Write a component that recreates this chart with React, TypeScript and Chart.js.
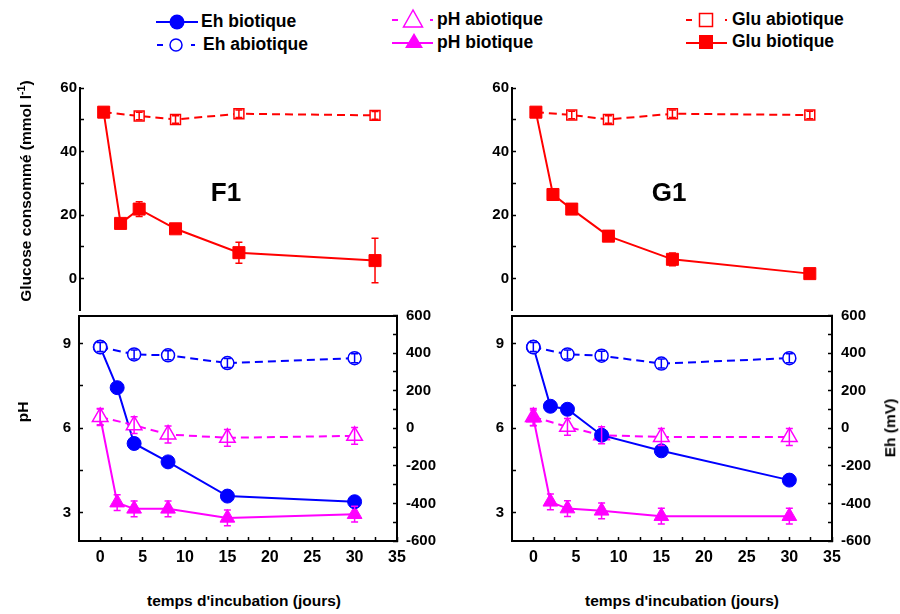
import React, { useEffect, useRef } from "react";
import { Chart, registerables } from "chart.js";

Chart.register(...registerables);

const FONT = 'Arial, "Liberation Sans", Helvetica, sans-serif';
const BLUE = "#0000ff";
const MAGENTA = "#ff00ff";
const RED = "#ff0000";

// ---------------- data ----------------
const daysBiotic = [0, 2, 4, 8, 15, 30];
const daysAbiotic = [0, 4, 8, 15, 30];
const daysGluBiotic = [0.3, 2.3, 4.5, 8.8, 16.3, 32.4];
const daysGluAbiotic = [0.3, 4.5, 8.8, 16.3, 32.4];

// F1
const f1GluBiotic = [52.4, 17.4, 21.9, 15.7, 8.2, 5.7];
const f1GluBioticErr = [0.5, 0.8, 2.3, 0.8, 3.3, 7];
const f1GluAbiotic = [52.4, 51.2, 50.1, 51.9, 51.4];
const f1GluAbioticErr = [0.6, 1.2, 1.2, 1.2, 1.2];
const f1EhBiotic = [432, 216, -81, -179, -361, -391];
const f1EhAbiotic = [432, 393, 388, 347, 373];
const f1EhAbioticErr = [24, 24, 24, 24, 24];
const f1PhBiotic = [6.4, 3.36, 3.14, 3.14, 2.82, 2.95];
const f1PhBioticErr = [0.28, 0.28, 0.28, 0.28, 0.28, 0.28];
const f1PhAbiotic = [6.4, 6.11, 5.78, 5.66, 5.73];
const f1PhAbioticErr = [0.3, 0.3, 0.3, 0.3, 0.3];

// G1
const g1GluBiotic = [52.4, 26.5, 21.9, 13.4, 6.1, 1.6];
const g1GluBioticErr = [0.5, 0.8, 0.8, 0.8, 2, 0.8];
const g1GluAbiotic = [52.4, 51.5, 50.1, 51.9, 51.5];
const g1GluAbioticErr = [0.6, 1.2, 1.2, 1.2, 1.2];
const g1EhBiotic = [432, 117, 101, -37, -120, -276];
const g1EhAbiotic = [432, 393, 386, 344, 373];
const g1EhAbioticErr = [24, 24, 24, 24, 24];
const g1PhBiotic = [6.37, 3.39, 3.15, 3.07, 2.88, 2.88];
const g1PhBioticErr = [0.28, 0.28, 0.28, 0.28, 0.28, 0.28];
const g1PhAbiotic = [6.4, 6.05, 5.75, 5.69, 5.69];
const g1PhAbioticErr = [0.3, 0.3, 0.3, 0.3, 0.3];

// ticks
const xTickValues = [0, 2.5, 5, 7.5, 10, 12.5, 15, 17.5, 20, 22.5, 25, 27.5, 30, 32.5, 35];
const xTickLabels = [0, 5, 10, 15, 20, 25, 30, 35];
const phTickValues = [3, 4.5, 6, 7.5, 9];
const phTickLabels = [3, 6, 9];
const ehTickValues = [-600, -500, -400, -300, -200, -100, 0, 100, 200, 300, 400, 500, 600];
const ehTickLabels = [-600, -400, -200, 0, 200, 400, 600];
const gluTickValues = [0, 10, 20, 30, 40, 50, 60];
const gluTickLabels = [0, 20, 40, 60];

const seriesLabels = {
  ehBio: "Eh biotique",
  ehAbio: "Eh abiotique",
  phAbio: "pH abiotique",
  phBio: "pH biotique",
  gluAbio: "Glu abiotique",
  gluBio: "Glu biotique",
};

// ---------------- helpers ----------------
const pts = (xs: number[], ys: number[]) => xs.map((x, i) => ({ x, y: ys[i] }));

const errorBarPlugin = {
  id: "errbars",
  afterDatasetsDraw(chart: any) {
    const ctx = chart.ctx;
    chart.data.datasets.forEach((ds: any, i: number) => {
      const err = ds.errors;
      if (!err) return;
      const meta = chart.getDatasetMeta(i);
      const ys = chart.scales[ds.yAxisID];
      ctx.save();
      ctx.strokeStyle = ds.borderColor;
      ctx.lineWidth = 1.5;
      meta.data.forEach((pt: any, j: number) => {
        const e = err[j];
        if (!e) return;
        const v = ds.data[j].y;
        const y1 = ys.getPixelForValue(v + e);
        const y2 = ys.getPixelForValue(v - e);
        const x = pt.x;
        ctx.beginPath();
        ctx.moveTo(x, y1);
        ctx.lineTo(x, y2);
        ctx.moveTo(x - 3.5, y1);
        ctx.lineTo(x + 3.5, y1);
        ctx.moveTo(x - 3.5, y2);
        ctx.lineTo(x + 3.5, y2);
        ctx.stroke();
      });
      ctx.restore();
    });
  },
};

const topBorderPlugin = {
  id: "topborder",
  afterDraw(chart: any, _a: any, opts: any) {
    if (!opts || !opts.enabled) return;
    const { left, right, top } = chart.chartArea;
    const ctx = chart.ctx;
    ctx.save();
    ctx.strokeStyle = "#000";
    ctx.lineWidth = 2;
    ctx.beginPath();
    ctx.moveTo(left - 1, Math.round(top));
    ctx.lineTo(right + 1, Math.round(top));
    ctx.stroke();
    ctx.restore();
  },
};

function axisStyle(
  tickValues: number[],
  tickLabels: number[],
  size: number,
  padding: number,
  horizontal: boolean,
  fontSize: number
) {
  return {
    border: { display: true, color: "#000", width: 2 },
    grid: {
      drawOnChartArea: false,
      drawTicks: true,
      tickLength: -4,
      tickColor: "#000",
      tickWidth: 1.5,
    },
    ticks: {
      autoSkip: false,
      color: "#000",
      padding,
      maxRotation: 0,
      minRotation: 0,
      font: { family: FONT, size: fontSize, weight: "bold" },
      callback: (v: any) =>
        tickLabels.some((l) => Math.abs(l - Number(v)) < 1e-9) ? String(v) : "",
    },
    afterBuildTicks: (s: any) => {
      s.ticks = tickValues.map((v) => ({ value: v }));
    },
    afterFit: (s: any) => {
      if (horizontal) s.height = size;
      else s.width = size;
      s.paddingTop = 0;
      s.paddingBottom = 0;
      s.paddingLeft = 0;
      s.paddingRight = 0;
    },
  };
}

const hiddenFit = (s: any) => {
  s.height = 0;
  s.paddingTop = 0;
  s.paddingBottom = 0;
  s.paddingLeft = 0;
  s.paddingRight = 0;
};

function baseOptions(layoutPadding: any, scales: any, topBorder: boolean) {
  return {
    responsive: false,
    maintainAspectRatio: false,
    animation: false,
    events: [],
    layout: { padding: layoutPadding },
    plugins: {
      legend: { display: false },
      tooltip: { enabled: false },
      topborder: { enabled: topBorder },
    },
    scales,
  };
}

function glucoseConfig(
  bio: number[],
  bioErr: number[],
  abio: number[],
  abioErr: number[],
  leftWidth: number,
  rightPad: number
) {
  return {
    type: "line",
    data: {
      datasets: [
        {
          label: seriesLabels.gluBio,
          data: pts(daysGluBiotic, bio),
          errors: bioErr,
          xAxisID: "x",
          yAxisID: "glu",
          order: 0,
          borderColor: RED,
          backgroundColor: RED,
          borderWidth: 2,
          pointStyle: "rect",
          pointRadius: 8.5,
          pointBorderWidth: 1,
          pointBackgroundColor: RED,
          pointBorderColor: RED,
          tension: 0,
        },
        {
          label: seriesLabels.gluAbio,
          data: pts(daysGluAbiotic, abio),
          errors: abioErr,
          xAxisID: "x",
          yAxisID: "glu",
          order: 1,
          borderColor: RED,
          backgroundColor: "#fff",
          borderWidth: 2,
          borderDash: [8, 5],
          pointStyle: "rect",
          pointRadius: 7,
          pointBorderWidth: 1.5,
          pointBackgroundColor: "#fff",
          pointBorderColor: RED,
          tension: 0,
        },
      ],
    },
    options: baseOptions(
      { top: 18, right: rightPad, bottom: 5, left: 0 },
      {
        x: { type: "linear", min: -2.5, max: 35, display: false, afterFit: hiddenFit },
        glu: {
          type: "linear",
          position: "left",
          min: -10,
          max: 60,
          ...axisStyle(gluTickValues, gluTickLabels, leftWidth, 7, false, 15),
        },
      },
      false
    ),
    plugins: [errorBarPlugin, topBorderPlugin],
  };
}

function lowerConfig(
  ehBio: number[],
  ehAbio: number[],
  ehAbioErr: number[],
  phBio: number[],
  phBioErr: number[],
  phAbio: number[],
  phAbioErr: number[],
  orders: { ehBio: number; ehAbio: number; phBio: number; phAbio: number },
  leftWidth: number,
  rightWidth: number,
  leftPad: number
) {
  return {
    type: "line",
    data: {
      datasets: [
        {
          label: seriesLabels.ehBio,
          data: pts(daysBiotic, ehBio),
          xAxisID: "x",
          yAxisID: "eh",
          order: orders.ehBio,
          borderColor: BLUE,
          backgroundColor: BLUE,
          borderWidth: 2,
          pointStyle: "circle",
          pointRadius: 7,
          pointBorderWidth: 1,
          pointBackgroundColor: BLUE,
          pointBorderColor: BLUE,
          tension: 0,
        },
        {
          label: seriesLabels.ehAbio,
          data: pts(daysAbiotic, ehAbio),
          errors: ehAbioErr,
          xAxisID: "x",
          yAxisID: "eh",
          order: orders.ehAbio,
          borderColor: BLUE,
          backgroundColor: "#fff",
          borderWidth: 2,
          borderDash: [8, 5],
          pointStyle: "circle",
          pointRadius: 6.5,
          pointBorderWidth: 1.5,
          pointBackgroundColor: "#fff",
          pointBorderColor: BLUE,
          tension: 0,
        },
        {
          label: seriesLabels.phBio,
          data: pts(daysBiotic, phBio),
          errors: phBioErr,
          xAxisID: "x",
          yAxisID: "ph",
          order: orders.phBio,
          borderColor: MAGENTA,
          backgroundColor: MAGENTA,
          borderWidth: 2,
          pointStyle: "triangle",
          pointRadius: 8.5,
          pointBorderWidth: 1,
          pointBackgroundColor: MAGENTA,
          pointBorderColor: MAGENTA,
          tension: 0,
        },
        {
          label: seriesLabels.phAbio,
          data: pts(daysAbiotic, phAbio),
          errors: phAbioErr,
          xAxisID: "x",
          yAxisID: "ph",
          order: orders.phAbio,
          borderColor: MAGENTA,
          backgroundColor: "#fff",
          borderWidth: 2,
          borderDash: [8, 5],
          pointStyle: "triangle",
          pointRadius: 9,
          pointBorderWidth: 1.5,
          pointBackgroundColor: "#fff",
          pointBorderColor: MAGENTA,
          tension: 0,
        },
      ],
    },
    options: baseOptions(
      { top: 10, right: 0, bottom: 0, left: 0 },
      {
        x: {
          type: "linear",
          position: "bottom",
          min: -2.5,
          max: 35,
          ...axisStyle(xTickValues, xTickLabels, 49, 11, true, 16),
        },
        ph: {
          type: "linear",
          position: "left",
          min: 2,
          max: 10,
          ...axisStyle(phTickValues, phTickLabels, leftWidth, leftPad, false, 15),
        },
        eh: {
          type: "linear",
          position: "right",
          min: -600,
          max: 600,
          ...axisStyle(ehTickValues, ehTickLabels, rightWidth, 13, false, 15),
        },
      },
      true
    ),
    plugins: [errorBarPlugin, topBorderPlugin],
  };
}

function ChartBox(props: { left: number; top: number; width: number; height: number; make: () => any }) {
  const ref = useRef<HTMLCanvasElement>(null);
  useEffect(() => {
    const chart = new Chart(ref.current as HTMLCanvasElement, props.make());
    return () => chart.destroy();
  }, []);
  return (
    <canvas
      ref={ref}
      width={props.width}
      height={props.height}
      style={{
        position: "absolute",
        left: props.left,
        top: props.top,
        width: props.width,
        height: props.height,
      }}
    />
  );
}

function Label(props: {
  x: number;
  y: number;
  size: number;
  rotate?: boolean;
  align?: "left" | "center";
  children: any;
}) {
  const { x, y, size, rotate, align, children } = props;
  let transform = "translate(0, -50%)";
  if (align === "center" || rotate) transform = "translate(-50%, -50%)";
  if (rotate) transform += " rotate(-90deg)";
  return (
    <div
      style={{
        position: "absolute",
        left: x,
        top: y,
        transform,
        fontFamily: FONT,
        fontWeight: "bold",
        fontSize: size,
        lineHeight: 1,
        whiteSpace: "nowrap",
        color: "#000",
      }}
    >
      {children}
    </div>
  );
}

function LegendIcons() {
  return (
    <svg
      width={900}
      height={60}
      style={{ position: "absolute", left: 0, top: 0 }}
    >
      {/* Eh biotique */}
      <line x1={156} y1={22} x2={198} y2={22} stroke={BLUE} strokeWidth={2} />
      <circle cx={177} cy={22} r={7.5} fill={BLUE} />
      {/* Eh abiotique */}
      <line x1={157} y1={45} x2={163} y2={45} stroke={BLUE} strokeWidth={2} />
      <line x1={191} y1={45} x2={195} y2={45} stroke={BLUE} strokeWidth={2} />
      <circle cx={176} cy={45} r={6} fill="#fff" stroke={BLUE} strokeWidth={1.5} />
      {/* pH abiotique */}
      <line x1={392} y1={20} x2={398} y2={20} stroke={MAGENTA} strokeWidth={2} />
      <line x1={430} y1={20} x2={433} y2={20} stroke={MAGENTA} strokeWidth={2} />
      <polygon points="413,10 403.5,27 422.5,27" fill="#fff" stroke={MAGENTA} strokeWidth={1.5} />
      {/* pH biotique */}
      <line x1={392} y1={43} x2={433} y2={43} stroke={MAGENTA} strokeWidth={2} />
      <polygon points="414,33 405,48 423,48" fill={MAGENTA} />
      {/* Glu abiotique */}
      <line x1={686} y1={20} x2={692} y2={20} stroke={RED} strokeWidth={2} />
      <line x1={725} y1={20} x2={727} y2={20} stroke={RED} strokeWidth={2} />
      <rect x={699.5} y={13.5} width={13} height={13} fill="#fff" stroke={RED} strokeWidth={1.5} />
      {/* Glu biotique */}
      <line x1={686} y1={43} x2={727} y2={43} stroke={RED} strokeWidth={2} />
      <rect x={699} y={35} width={14} height={14} fill={RED} />
    </svg>
  );
}

export default function App() {
  return (
    <div
      style={{
        position: "fixed",
        left: 0,
        top: 0,
        width: 900,
        height: 614,
        background: "#fff",
        overflow: "hidden",
      }}
    >
      <ChartBox
        left={0}
        top={70}
        width={450}
        height={250}
        make={() => glucoseConfig(f1GluBiotic, f1GluBioticErr, f1GluAbiotic, f1GluAbioticErr, 80, 53)}
      />
      <ChartBox
        left={450}
        top={70}
        width={450}
        height={250}
        make={() => glucoseConfig(g1GluBiotic, g1GluBioticErr, g1GluAbiotic, g1GluAbioticErr, 62, 68)}
      />
      <ChartBox
        left={0}
        top={305}
        width={450}
        height={285}
        make={() =>
          lowerConfig(
            f1EhBiotic,
            f1EhAbiotic,
            f1EhAbioticErr,
            f1PhBiotic,
            f1PhBioticErr,
            f1PhAbiotic,
            f1PhAbioticErr,
            { phAbio: 0, ehAbio: 1, ehBio: 2, phBio: 3 },
            79,
            53,
            12
          )
        }
      />
      <ChartBox
        left={450}
        top={305}
        width={450}
        height={285}
        make={() =>
          lowerConfig(
            g1EhBiotic,
            g1EhAbiotic,
            g1EhAbioticErr,
            g1PhBiotic,
            g1PhBioticErr,
            g1PhAbiotic,
            g1PhAbioticErr,
            { phBio: 0, ehAbio: 1, ehBio: 2, phAbio: 3 },
            62,
            68,
            12
          )
        }
      />

      <LegendIcons />
      <Label x={201} y={22} size={17.5}>{seriesLabels.ehBio}</Label>
      <Label x={203} y={45} size={17.5}>{seriesLabels.ehAbio}</Label>
      <Label x={437} y={20} size={17.5}>{seriesLabels.phAbio}</Label>
      <Label x={437} y={43} size={17.5}>{seriesLabels.phBio}</Label>
      <Label x={732} y={20} size={17.5}>{seriesLabels.gluAbio}</Label>
      <Label x={732} y={42} size={17.5}>{seriesLabels.gluBio}</Label>

      <Label x={226} y={192} size={26} align="center">F1</Label>
      <Label x={669} y={192} size={26} align="center">G1</Label>

      <Label x={25} y={191} size={15.5} rotate>
        Glucose consommé (mmol l<sup style={{ fontSize: "0.7em" }}>-1</sup>)
      </Label>
      <Label x={23} y={412} size={15.5} rotate>pH</Label>
      <Label x={890} y={428} size={15.5} rotate>Eh (mV)</Label>
      <Label x={244} y={601} size={15.5} align="center">temps d'incubation (jours)</Label>
      <Label x={682} y={601} size={15.5} align="center">temps d'incubation (jours)</Label>
    </div>
  );
}
